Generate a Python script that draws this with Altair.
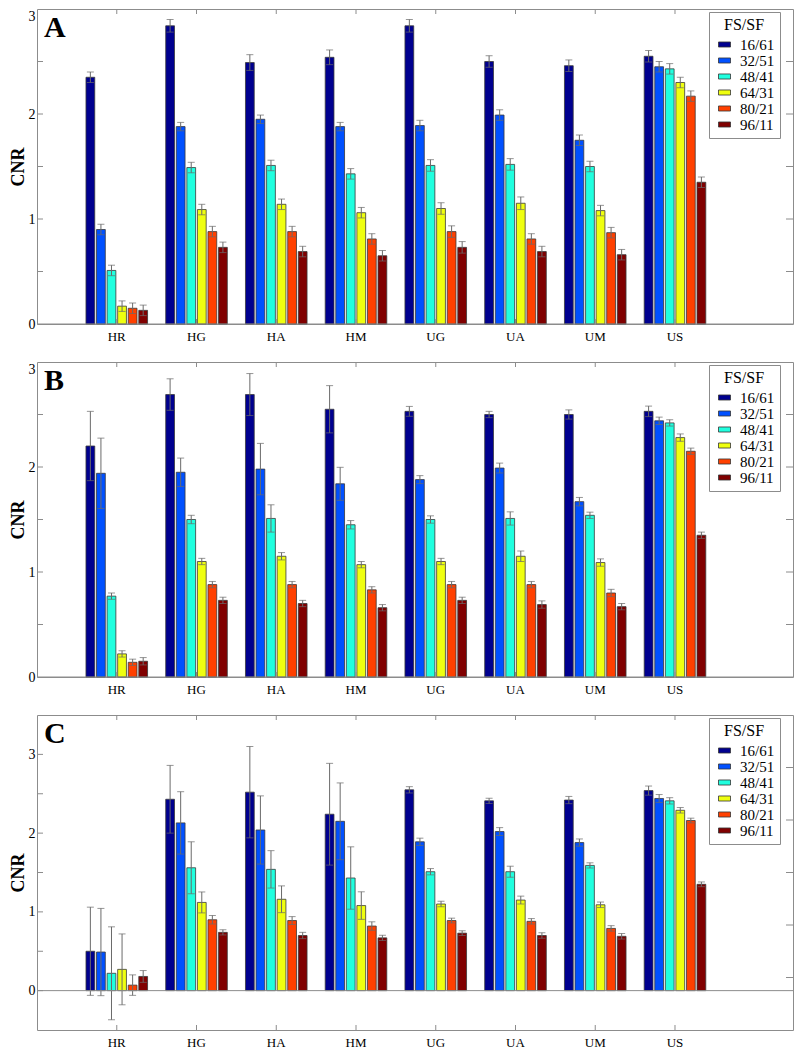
import altair as alt
import pandas as pd

CATEGORIES = ["HR", "HG", "HA", "HM", "UG", "UA", "UM", "US"]
SERIES = ["16/61", "32/51", "48/41", "64/31", "80/21", "96/11"]
COLORS = ["#00008F", "#0050FF", "#20FFDF", "#EFFF10", "#FF4000", "#800000"]

# ---- Panel A: mean CNR per series (CATEGORIES order) and error half-widths
A_16_61 = [2.35, 2.84, 2.49, 2.54, 2.84, 2.50, 2.46, 2.55]
A_32_51 = [0.90, 1.88, 1.95, 1.88, 1.89, 1.99, 1.75, 2.45]
A_48_41 = [0.51, 1.49, 1.51, 1.43, 1.51, 1.52, 1.50, 2.43]
A_64_31 = [0.17, 1.09, 1.14, 1.06, 1.10, 1.15, 1.08, 2.30]
A_80_21 = [0.15, 0.88, 0.88, 0.81, 0.88, 0.81, 0.87, 2.17]
A_96_11 = [0.13, 0.73, 0.69, 0.65, 0.73, 0.69, 0.66, 1.35]
A_ERR_16_61 = [0.05, 0.06, 0.075, 0.07, 0.06, 0.055, 0.055, 0.055]
A_ERR_32_51 = [0.05, 0.04, 0.04, 0.04, 0.05, 0.05, 0.05, 0.05]
A_ERR_48_41 = [0.05, 0.05, 0.05, 0.05, 0.055, 0.055, 0.05, 0.05]
A_ERR_64_31 = [0.05, 0.05, 0.05, 0.05, 0.055, 0.06, 0.05, 0.05]
A_ERR_80_21 = [0.05, 0.05, 0.05, 0.05, 0.055, 0.05, 0.05, 0.05]
A_ERR_96_11 = [0.05, 0.05, 0.05, 0.05, 0.055, 0.05, 0.05, 0.05]

# ---- Panel B
B_16_61 = [2.20, 2.69, 2.69, 2.55, 2.53, 2.50, 2.50, 2.53]
B_32_51 = [1.94, 1.95, 1.98, 1.84, 1.88, 1.99, 1.67, 2.44]
B_48_41 = [0.77, 1.50, 1.51, 1.45, 1.50, 1.51, 1.54, 2.42]
B_64_31 = [0.22, 1.10, 1.15, 1.07, 1.10, 1.15, 1.09, 2.28]
B_80_21 = [0.14, 0.88, 0.88, 0.83, 0.88, 0.88, 0.80, 2.15]
B_96_11 = [0.15, 0.73, 0.70, 0.66, 0.73, 0.69, 0.67, 1.35]
B_ERR_16_61 = [0.33, 0.15, 0.20, 0.225, 0.047, 0.03, 0.044, 0.05]
B_ERR_32_51 = [0.335, 0.135, 0.245, 0.157, 0.038, 0.047, 0.04, 0.035]
B_ERR_48_41 = [0.03, 0.04, 0.13, 0.04, 0.035, 0.063, 0.03, 0.03]
B_ERR_64_31 = [0.03, 0.03, 0.035, 0.03, 0.03, 0.05, 0.035, 0.035]
B_ERR_80_21 = [0.03, 0.03, 0.03, 0.03, 0.03, 0.03, 0.035, 0.03]
B_ERR_96_11 = [0.035, 0.03, 0.03, 0.03, 0.03, 0.035, 0.03, 0.03]

# ---- Panel C
C_16_61 = [0.50, 2.43, 2.52, 2.24, 2.55, 2.41, 2.42, 2.54]
C_32_51 = [0.49, 2.13, 2.04, 2.15, 1.89, 2.02, 1.88, 2.44]
C_48_41 = [0.22, 1.56, 1.54, 1.43, 1.51, 1.51, 1.59, 2.41]
C_64_31 = [0.27, 1.12, 1.16, 1.08, 1.10, 1.15, 1.09, 2.29]
C_80_21 = [0.07, 0.90, 0.89, 0.82, 0.89, 0.88, 0.79, 2.16]
C_96_11 = [0.18, 0.74, 0.70, 0.67, 0.73, 0.70, 0.69, 1.35]
C_ERR_16_61 = [0.56, 0.43, 0.58, 0.646, 0.04, 0.033, 0.046, 0.058]
C_ERR_32_51 = [0.554, 0.396, 0.433, 0.4875, 0.046, 0.05, 0.046, 0.05]
C_ERR_48_41 = [0.59, 0.33, 0.2375, 0.396, 0.04, 0.07, 0.033, 0.04]
C_ERR_64_31 = [0.45, 0.133, 0.17, 0.175, 0.035, 0.05, 0.035, 0.035]
C_ERR_80_21 = [0.13, 0.054, 0.05, 0.054, 0.03, 0.035, 0.035, 0.03]
C_ERR_96_11 = [0.075, 0.033, 0.04, 0.033, 0.03, 0.035, 0.035, 0.03]

# axis tick positions (decoration)
Y_LABELS = [0, 1, 2, 3]
LEFT_TICKS_AB = [0.5, 1, 1.5, 2, 2.5]
LEFT_TICKS_C = [0, 0.5, 1, 1.5, 2, 2.5, 3]
RIGHT_TICKS = [0.5, 1, 1.5, 2, 2.5]

FONT = "Liberation Serif"
FRAME = "#8c8c8c"
ERR = "#6a6a6a"
W, H = 756, 315


def panel_df(means, errs):
    rows = []
    for s, mlist, elist in zip(SERIES, means, errs):
        for c, m, e in zip(CATEGORIES, mlist, elist):
            rows.append({"cat": c, "series": s, "mean": m, "lo": m - e, "hi": m + e})
    return pd.DataFrame(rows)


def make_panel(letter, df, ydomain, left_ticks, flush_top):
    xscale = alt.Scale(domain=CATEGORIES, paddingInner=0, paddingOuter=0.74, align=0.338)
    yscale = alt.Scale(domain=ydomain, nice=False)
    x_axis = alt.Axis(title=None, labelAngle=0, labelPadding=6, ticks=False, domain=False,
                      grid=False)
    y_axis_kw = dict(title="CNR", values=Y_LABELS, labelPadding=2, titlePadding=1,
                     ticks=False, domain=False, grid=False, titleFontWeight="bold")
    if flush_top:
        y_axis_kw["labelBaseline"] = {"condition": {"test": "datum.value >= 3", "value": "top"},
                                      "value": "middle"}
    y_axis = alt.Axis(**y_axis_kw)

    x = alt.X("cat:N", scale=xscale, sort=CATEGORIES, axis=x_axis)
    xo = alt.XOffset("series:N", sort=SERIES,
                     scale=alt.Scale(domain=SERIES, paddingInner=0.17, paddingOuter=0.86))

    def Y(field):
        return alt.Y(field, type="quantitative", scale=yscale, axis=y_axis)

    legend = alt.Legend(title="FS/SF", orient="none", legendX=W - 84, legendY=3,
                        strokeColor=FRAME, fillColor="white", titleFontWeight="normal")

    bars = alt.Chart(df).mark_bar(stroke="#3a3a3a", strokeWidth=0.8).encode(
        x=x, xOffset=xo, y=Y("mean"),
        color=alt.Color("series:N", sort=SERIES,
                        scale=alt.Scale(domain=SERIES, range=COLORS), legend=legend),
    )
    err = alt.Chart(df).mark_rule(color=ERR, strokeWidth=1).encode(
        x=x, xOffset=xo, y=Y("lo"), y2="hi:Q")
    cap_lo = alt.Chart(df).mark_tick(color=ERR, thickness=1, size=7).encode(
        x=x, xOffset=xo, y=Y("lo"))
    cap_hi = alt.Chart(df).mark_tick(color=ERR, thickness=1, size=7).encode(
        x=x, xOffset=xo, y=Y("hi"))

    zero = alt.Chart(pd.DataFrame({"z": [0]})).mark_rule(color=FRAME).encode(y=Y("z"))
    lticks = alt.Chart(pd.DataFrame({"v": left_ticks})).mark_rule(color=FRAME).encode(
        y=Y("v"), x=alt.value(0), x2=alt.value(6))
    cat_df = pd.DataFrame({"cat": CATEGORIES})
    tticks = alt.Chart(cat_df).mark_rule(color=FRAME).encode(
        x=x, y=alt.value(0), y2=alt.value(5))
    bticks = alt.Chart(cat_df).mark_rule(color=FRAME).encode(
        x=x, y=alt.value(H - 5), y2=alt.value(H))
    label = alt.Chart(pd.DataFrame({"t": [letter]})).mark_text(
        font=FONT, fontSize=30, fontWeight="bold", align="left", baseline="alphabetic",
        color="black").encode(text="t:N", x=alt.value(7), y=alt.value(28))

    inner = alt.layer(bars, err, cap_lo, cap_hi, zero, lticks, tticks, bticks, label)

    rticks = alt.Chart(pd.DataFrame({"v": RIGHT_TICKS})).mark_rule(color=FRAME).encode(
        y=alt.Y("v:Q", scale=alt.Scale(domain=[0, 3], nice=False), axis=None),
        x=alt.value(W - 7), x2=alt.value(W))

    return alt.layer(inner, rticks).resolve_scale(y="independent").properties(
        width=W, height=H)


dfA = panel_df([A_16_61, A_32_51, A_48_41, A_64_31, A_80_21, A_96_11],
               [A_ERR_16_61, A_ERR_32_51, A_ERR_48_41, A_ERR_64_31, A_ERR_80_21, A_ERR_96_11])
dfB = panel_df([B_16_61, B_32_51, B_48_41, B_64_31, B_80_21, B_96_11],
               [B_ERR_16_61, B_ERR_32_51, B_ERR_48_41, B_ERR_64_31, B_ERR_80_21, B_ERR_96_11])
dfC = panel_df([C_16_61, C_32_51, C_48_41, C_64_31, C_80_21, C_96_11],
               [C_ERR_16_61, C_ERR_32_51, C_ERR_48_41, C_ERR_64_31, C_ERR_80_21, C_ERR_96_11])

pA = make_panel("A", dfA, [0, 3], LEFT_TICKS_AB, True)
pB = make_panel("B", dfB, [0, 3], LEFT_TICKS_AB, True)
pC = make_panel("C", dfC, [-0.5, 3.5], LEFT_TICKS_C, False)

chart = (
    alt.vconcat(pA, pB, pC, spacing=17)
    .resolve_scale(color="independent")
    .resolve_legend(color="independent")
    .properties(padding=0)
    .configure(font=FONT, style={"guide-title": {"fontWeight": "normal"}})
    .configure_view(stroke=FRAME, strokeWidth=1)
    .configure_axis(labelFont=FONT, titleFont=FONT, labelColor="black", titleColor="black")
    .configure_axisY(labelFontSize=14, titleFontSize=18, titleFontWeight="bold")
    .configure_axisX(labelFontSize=13)
    .configure_legend(
        padding=5, strokeColor=FRAME, fillColor="white",
        titleFont=FONT, titleFontSize=16, titleFontWeight="normal", titleColor="black",
        titleAnchor="middle", titleAlign="center", titlePadding=4,
        labelFont=FONT, labelFontSize=15, labelColor="black", labelOffset=8,
        symbolType="M-1,-0.42H1V0.42H-1Z", symbolSize=144, symbolOffset=3,
        symbolStrokeColor="#333333", symbolStrokeWidth=0.8, symbolOpacity=1, rowPadding=0,
    )
)

chart.save("out.html", embed_options={"renderer": "svg", "actions": False})
